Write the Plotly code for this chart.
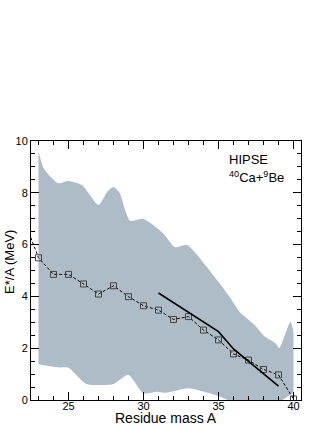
import plotly.graph_objects as go

# HIPSE simulation, mean E*/A per residue mass (dashed + open squares)
mass = [22, 23, 24, 25, 26, 27, 28, 29, 30, 31, 32, 33, 34, 35, 36, 37, 38, 39, 40]
eStar = [7.0, 5.49, 4.85, 4.85, 4.48, 4.09, 4.41, 3.99, 3.64, 3.47, 3.11, 3.22,
         2.70, 2.32, 1.78, 1.54, 1.18, 0.97, 0.04]

# solid reference line
fitMass = [31, 35, 36, 39]
fitE = [4.13, 2.64, 1.97, 0.54]

# spread of the distribution (shaded band)
upMass = [23, 23.3, 23.8, 24.3, 25.0, 25.9, 27.0, 27.6, 28.0, 28.4, 29.1, 30.0, 31.3, 32.1,
          32.9, 34.9, 35.8, 36.4, 37.4, 38.1, 38.8, 39.05, 39.8, 40.0]
upE = [9.59, 9.0, 8.62, 8.37, 8.46, 8.3, 7.53, 8.05, 8.22, 8.0, 6.92, 6.99, 6.44, 5.9,
       5.98, 4.63, 3.93, 3.41, 2.9, 2.44, 2.19, 2.0, 3.02, 2.6]
loMass = [23, 24.3, 25.0, 26.2, 28.0, 29.0, 30.0, 30.9, 31.5, 33.0, 34.4, 35.1,
          36.0, 37.0, 38.0, 39.2, 40.0]
loE = [1.38, 1.26, 1.25, 0.62, 0.62, 0.97, 0.26, 0.32, 0.28, 0.45, 0.26, 0.13,
       -0.1, -0.2, -0.2, -0.02, 0.3]

bandColor = 'rgb(173,188,198)'
font = 'Liberation Sans'

fig = go.Figure()
fig.add_trace(go.Scatter(x=loMass, y=loE, mode='lines', line=dict(width=0, shape='spline', smoothing=0.6, color=bandColor),
                         showlegend=False, hoverinfo='skip'))
fig.add_trace(go.Scatter(x=upMass, y=upE, mode='lines', line=dict(width=0, shape='spline', smoothing=0.6, color=bandColor),
                         fill='tonexty', fillcolor=bandColor, showlegend=False, hoverinfo='skip'))
fig.add_trace(go.Scatter(x=mass, y=eStar, mode='lines+markers',
                         line=dict(color='black', width=1, dash='3px,2px'),
                         marker=dict(symbol='square-open', size=6, color='#444', line=dict(width=1, color='#444')),
                         showlegend=False))
fig.add_trace(go.Scatter(x=fitMass, y=fitE, mode='lines', line=dict(color='black', width=1.6), showlegend=False))

axisStyle = dict(showgrid=False, zeroline=False, showline=True, linecolor='black', linewidth=1,
                 mirror='allticks', ticks='inside', ticklen=8, tickcolor='black', automargin=False,
                 tickfont=dict(family=font, size=11, color='black'))

fig.update_xaxes(range=[22.5, 40.5], tickvals=[25, 30, 35, 40], ticklabelstandoff=-4,
                 minor=dict(dtick=1, ticks='inside', ticklen=4, tickcolor='black'),
                 **axisStyle)
fig.update_yaxes(range=[0, 10], tickvals=[0, 2, 4, 6, 8, 10],
                 minor=dict(dtick=0.5, ticks='inside', ticklen=4, tickcolor='black'),
                 **axisStyle)

fig.update_layout(
    width=332, height=430,
    margin=dict(l=31, r=31, t=141, b=30),
    plot_bgcolor='white', paper_bgcolor='white',
    annotations=[
        dict(text='Residue mass A', xref='paper', yref='paper', x=0.5, y=-0.07,
             xanchor='center', yanchor='middle', showarrow=False,
             font=dict(family=font, size=14, color='black')),
        dict(text='E*/A (MeV)', textangle=-90, xref='paper', yref='paper', x=-0.078, y=0.533,
             xanchor='center', yanchor='middle', showarrow=False,
             font=dict(family=font, size=13, color='black')),
        dict(text='HIPSE', xref='paper', yref='paper', x=0.725, y=0.93, xanchor='left', yanchor='middle',
             showarrow=False, font=dict(family=font, size=13, color='black')),
        dict(text='<sup>40</sup>Ca+<sup>9</sup>Be', xref='paper', yref='paper', x=0.725, y=0.86,
             xanchor='left', yanchor='middle', showarrow=False,
             font=dict(family=font, size=13, color='black')),
    ],
)

fig.write_html('out.html', config={'displayModeBar': False},
               post_script="document.body.style.margin='0';document.body.style.overflow='hidden';")
